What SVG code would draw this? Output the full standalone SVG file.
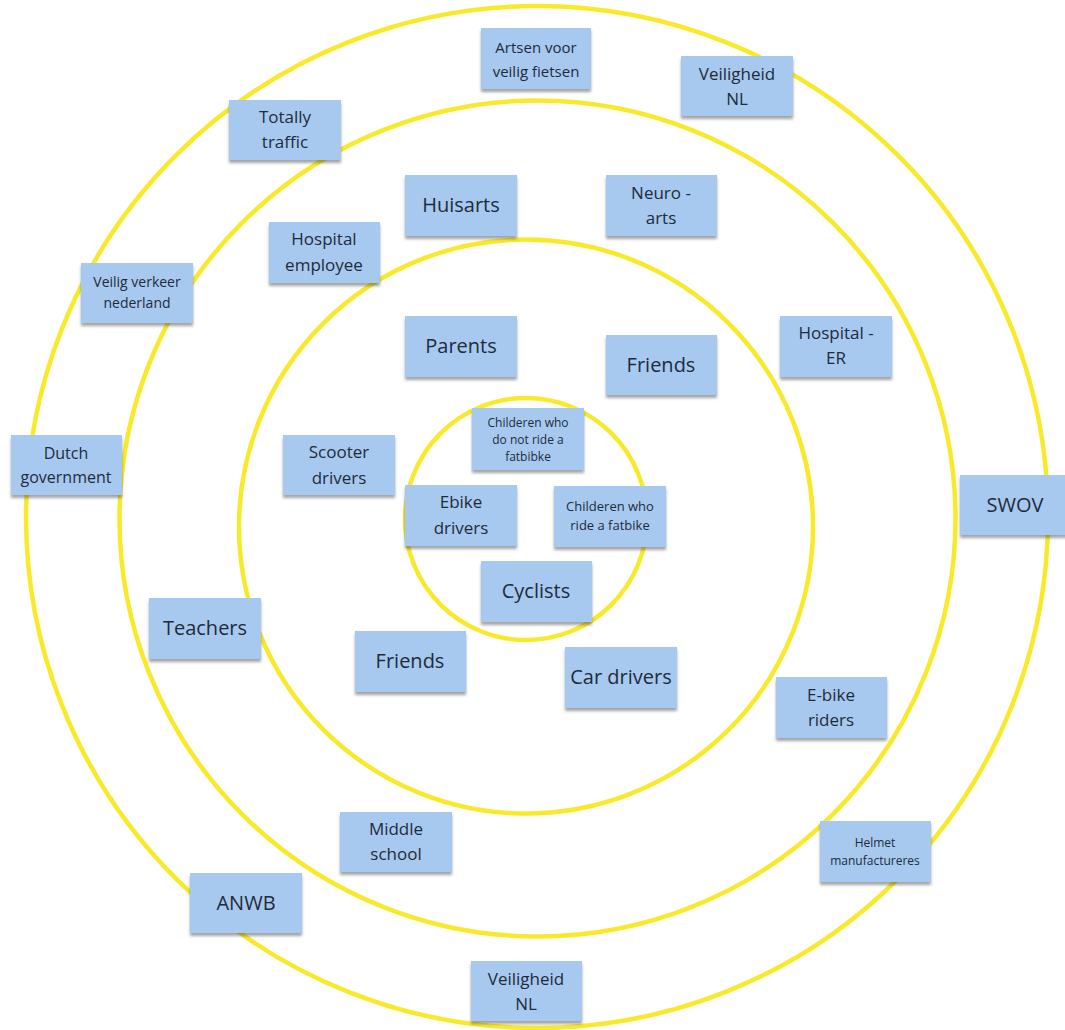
<svg xmlns="http://www.w3.org/2000/svg" width="1065" height="1030" viewBox="0 0 1065 1030">
<style>
.ring{fill:none;stroke:#f8ea2a;stroke-width:4.5}
.note{fill:#a7c9ef;filter:url(#sh)}
text{font-family:"Open Sans","Liberation Sans",sans-serif;fill:#1f2b3a;text-anchor:middle}
.f20{font-size:20px}.f17{font-size:17px}.f15{font-size:15px}.f14{font-size:14px}.f12{font-size:12px}
</style>
<defs>
<filter id="sh" x="-10%" y="-10%" width="120%" height="130%">
<feDropShadow dx="0" dy="3" stdDeviation="1.5" flood-color="#333" flood-opacity="0.45"/>
</filter>
</defs>
<rect width="1065" height="1030" fill="#fff"/>
<g id="rings">
<circle class="ring" cx="537" cy="517" r="511"/>
<circle class="ring" cx="537.5" cy="518.5" r="418"/>
<circle class="ring" cx="526" cy="526.5" r="287"/>
<circle class="ring" cx="526" cy="519" r="121"/>
</g>
<g id="connectors"></g>
<g id="n1"><rect class="note" x="481" y="28" width="110" height="61"/><text class="f15" x="536" y="53">Artsen voor</text><text class="f15" x="536" y="77">veilig fietsen</text></g>
<g id="n2"><rect class="note" x="681" y="56" width="112" height="60"/><text class="f17" x="737" y="80">Veiligheid</text><text class="f17" x="737" y="105">NL</text></g>
<g id="n3"><rect class="note" x="229" y="100" width="112" height="60"/><text class="f17" x="285" y="123">Totally</text><text class="f17" x="285" y="148">traffic</text></g>
<g id="n4"><rect class="note" x="405" y="175" width="112" height="61"/><text class="f20" x="461" y="212">Huisarts</text></g>
<g id="n5"><rect class="note" x="606" y="175" width="111" height="61"/><text class="f17" x="661" y="199">Neuro -</text><text class="f17" x="661" y="224">arts</text></g>
<g id="n6"><rect class="note" x="269" y="222" width="111" height="61"/><text class="f17" x="324" y="245">Hospital</text><text class="f17" x="324" y="271">employee</text></g>
<g id="n7"><rect class="note" x="81" y="263" width="112" height="60"/><text class="f14" x="137" y="287">Veilig verkeer</text><text class="f14" x="137" y="308">nederland</text></g>
<g id="n8"><rect class="note" x="405" y="316" width="112" height="61"/><text class="f20" x="461" y="353">Parents</text></g>
<g id="n9"><rect class="note" x="606" y="335" width="111" height="60"/><text class="f20" x="661" y="372">Friends</text></g>
<g id="n10"><rect class="note" x="780" y="316" width="112" height="61"/><text class="f17" x="836" y="339">Hospital -</text><text class="f17" x="836" y="364">ER</text></g>
<g id="n11"><rect class="note" x="11" y="435" width="111" height="60"/><text class="f16" style="font-size:16px" x="66" y="459">Dutch</text><text style="font-size:16px" x="66" y="483">government</text></g>
<g id="n12"><rect class="note" x="283" y="435" width="112" height="60"/><text class="f17" x="339" y="458">Scooter</text><text class="f17" x="339" y="484">drivers</text></g>
<g id="n13"><rect class="note" x="472" y="408" width="112" height="62"/><text class="f12" x="528" y="427">Childeren who</text><text class="f12" x="528" y="444">do not ride a</text><text class="f12" x="528" y="461">fatbibke</text></g>
<g id="n14"><rect class="note" x="405" y="485" width="112" height="61"/><text class="f17" x="461" y="508">Ebike</text><text class="f17" x="461" y="534">drivers</text></g>
<g id="n15"><rect class="note" x="554" y="486" width="112" height="61"/><text class="f13" style="font-size:13px" x="610" y="511">Childeren who</text><text style="font-size:13px" x="610" y="530">ride a fatbike</text></g>
<g id="n16"><rect class="note" x="960" y="475" width="111" height="60"/><text class="f20" x="1015" y="512">SWOV</text></g>
<g id="n17"><rect class="note" x="481" y="561" width="111" height="61"/><text class="f20" x="536" y="598">Cyclists</text></g>
<g id="n18"><rect class="note" x="149" y="598" width="112" height="61"/><text class="f20" x="205" y="635">Teachers</text></g>
<g id="n19"><rect class="note" x="355" y="631" width="111" height="61"/><text class="f20" x="410" y="668">Friends</text></g>
<g id="n20"><rect class="note" x="565" y="647" width="112" height="61"/><text class="f20" x="621" y="684">Car drivers</text></g>
<g id="n21"><rect class="note" x="776" y="677" width="111" height="61"/><text class="f17" x="831" y="701">E-bike</text><text class="f17" x="831" y="726">riders</text></g>
<g id="n22"><rect class="note" x="340" y="812" width="112" height="60"/><text class="f17" x="396" y="835">Middle</text><text class="f17" x="396" y="860">school</text></g>
<g id="n23"><rect class="note" x="820" y="821" width="111" height="61"/><text class="f12" x="875" y="847">Helmet</text><text class="f12" x="875" y="865">manufactureres</text></g>
<g id="n24"><rect class="note" x="190" y="873" width="112" height="60"/><text class="f20" x="246" y="910">ANWB</text></g>
<g id="n25"><rect class="note" x="471" y="961" width="111" height="60"/><text class="f17" x="526" y="985">Veiligheid</text><text class="f17" x="526" y="1010">NL</text></g>
</svg>
